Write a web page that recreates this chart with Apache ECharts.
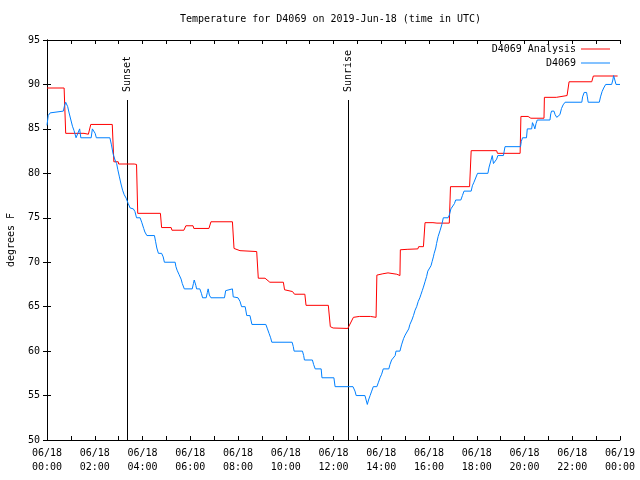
<!DOCTYPE html>
<html>
<head>
<meta charset="utf-8">
<script src="https://cdn.jsdelivr.net/npm/echarts@6/dist/echarts.min.js"></script>
<style>html,body{margin:0;padding:0;background:#fff}#chart{width:640px;height:480px}</style>
</head>
<body>
<div id="chart"></div>
<script>
const titleText = 'Temperature for D4069 on 2019-Jun-18 (time in UTC)';
const yAxisName = 'degrees F';
const seriesNames = ['D4069 Analysis', 'D4069'];
const xTickLabels = ['06/18\n00:00','06/18\n02:00','06/18\n04:00','06/18\n06:00','06/18\n08:00','06/18\n10:00','06/18\n12:00','06/18\n14:00','06/18\n16:00','06/18\n18:00','06/18\n20:00','06/18\n22:00','06/19\n00:00'];
const eventNames = ['Sunset', 'Sunrise'];
const eventMinutes = [202, 757];

// Analysis (red): minutes after 00:00 UTC, degrees F
const redMinutes = [0,43,47,93,104,110,164,168,179,180,219,223,225,228,285,288,312,314,344,349,367,369,407,412,466,470,485,527,531,548,550,560,594,597,617,622,648,651,707,712,719,756,770,785,813,817,827,829,833,844,847,857,862,879,882,887,888,905,932,934,946,950,970,975,980,1011,1014,1062,1066,1130,1132,1189,1191,1209,1216,1249,1250,1280,1282,1307,1312,1369,1373,1434];
const redTemps = [89.6,89.6,84.5,84.5,84.4,85.5,85.5,81.3,81.3,81.05,81.05,81.2,81.0,75.5,75.5,73.9,73.9,73.6,73.6,74.1,74.1,73.8,73.8,74.55,74.55,71.55,71.3,71.2,68.2,68.2,68.3,67.75,67.75,66.9,66.7,66.4,66.4,65.15,65.15,62.75,62.6,62.55,63.8,63.9,63.9,63.8,63.8,68.55,68.7,68.7,68.5,68.8,68.65,68.65,68.5,68.5,71.4,71.45,71.5,71.75,71.75,74.45,74.45,74.55,74.4,74.4,78.5,78.5,82.55,82.55,82.25,82.25,86.4,86.4,86.2,86.2,88.55,88.55,88.75,88.75,90.3,90.3,90.95,90.95];

// Observed (blue): minutes after 00:00 UTC, degrees F
const blueMinutes = [0,3,8,13,41,44,47,52,55,60,64,68,73,78,82,85,111,114,116,121,124,158,162,166,171,175,178,182,186,190,194,199,204,209,217,221,225,234,238,243,246,251,270,273,276,280,288,292,295,322,324,327,332,337,340,345,365,368,370,374,376,384,388,391,400,403,405,408,412,446,449,452,466,468,480,485,489,498,502,510,515,550,554,558,562,565,616,619,621,642,645,647,667,670,674,689,691,721,724,769,774,777,799,802,805,808,812,816,820,829,833,837,841,845,859,862,866,870,875,877,887,891,896,900,904,909,912,917,921,925,929,933,937,940,943,946,950,954,957,962,965,968,971,973,977,979,983,988,992,996,1008,1011,1015,1020,1024,1027,1040,1044,1048,1066,1069,1073,1082,1108,1111,1116,1119,1122,1126,1130,1133,1147,1149,1151,1190,1192,1195,1205,1207,1218,1220,1224,1226,1229,1232,1264,1266,1268,1274,1277,1281,1285,1289,1293,1297,1302,1344,1346,1350,1356,1358,1360,1388,1391,1395,1399,1404,1419,1422,1424,1427,1430,1440];
const blueTemps = [85.4,86.5,86.8,87,87,87.6,88,87.5,86.9,86,85.3,84.8,84,84,85,84,84,85,85,84.5,84,84,83.2,82.2,81.5,81.1,80.4,79.6,78.8,78.1,77.6,77.2,76.6,76.1,76,75.7,75,75,74.5,73.8,73.4,73,73,72.3,71.6,71,71,70.6,70,70,69.5,69.1,68.6,68.1,67.6,67,67,67.6,68,67.4,67,67,66.5,66,66,66.6,67,66.3,66,66,66.8,67,67,66.1,66,65.6,65,65,64,64,63,63,62.5,62,61.5,61,61,60.5,60,60,59.5,59,59,58.5,58,58,57,57,56,56,55.5,55,55,54.5,54,54.5,55,55.5,56,56,56.5,57,57.4,58,58,58.5,59,59,59.5,60,60,60.7,61.4,61.8,62,62.5,63,63.5,64,64.6,65,65.6,66,66.4,66.8,67.2,67.8,68.4,69,69,69.6,70.1,70.6,71,71.6,72.1,72.9,73.6,74.2,75,75,75.3,76,76.2,76.6,77,77,77.5,78,78,78.6,79,80,80,80.7,81.5,82,81.1,81.1,81.6,82,82,82.5,83,83,83.6,84,84,85,85,85.7,85.3,85,85.6,86,86,86.7,87,87,86.6,86.3,86.2,86.6,87.3,87.7,88,88,88.6,89.1,89.1,88.6,88,88,88.6,89.2,89.6,90,90,90.5,91,90.5,90,90];

const FONT = 'DejaVu Sans Mono';
const toPairs = (mins, temps) => mins.map((m, i) => [m / 60, temps[i]]);

const chart = echarts.init(document.getElementById('chart'), null, {renderer: 'canvas'});

const axisLineStyle = {show: true, lineStyle: {color: '#000', width: 1}};
const baseX = {
  type: 'value', min: 0, max: 24, interval: 2,
  axisLine: axisLineStyle,
  axisTick: {show: true, inside: true, length: 4, lineStyle: {color: '#000', width: 1}},
  minorTick: {show: true, splitNumber: 2, length: 4, lineStyle: {color: '#000', width: 1}},
  splitLine: {show: false}, minorSplitLine: {show: false}
};
const baseY = {
  type: 'value', min: 50, max: 95, interval: 5,
  axisLine: axisLineStyle,
  axisTick: {show: true, inside: true, length: 4, lineStyle: {color: '#000', width: 1}},
  splitLine: {show: false}
};

const option = {
  animation: false,
  backgroundColor: '#ffffff',
  textStyle: {fontFamily: FONT, fontSize: 10, color: '#000'},
  title: {
    text: titleText, left: 180, top: 14, padding: 0,
    textStyle: {fontFamily: FONT, fontSize: 10, fontWeight: 'normal', color: '#000'}
  },
  legend: {
    data: seriesNames, orient: 'vertical', right: 30, top: 42, align: 'right',
    icon: 'path://M0,0H30V1H0Z',
    itemWidth: 29, itemHeight: 1, itemGap: 0, padding: 0,
    textStyle: {fontFamily: FONT, fontSize: 10, color: '#000', lineHeight: 14}
  },
  grid: {left: 47, right: 20, top: 40, bottom: 40, containLabel: false, outerBoundsMode: 'none'},
  xAxis: [
    Object.assign({}, baseX, {
      position: 'bottom',
      axisLabel: {
        color: '#000', fontFamily: FONT, fontSize: 10, lineHeight: 14, margin: 6,
        formatter: v => xTickLabels[Math.round(v / 2)]
      }
    }),
    Object.assign({}, baseX, {position: 'top', axisLabel: {show: false}})
  ],
  yAxis: [
    Object.assign({}, baseY, {
      position: 'left',
      name: yAxisName, nameLocation: 'middle', nameRotate: 90, nameGap: 31, nameMoveOverlap: false,
      nameTextStyle: {fontFamily: FONT, fontSize: 10, color: '#000'},
      axisLabel: {color: '#000', fontFamily: FONT, fontSize: 10, margin: 7}
    }),
    Object.assign({}, baseY, {position: 'right', axisLabel: {show: false}})
  ],
  series: [
    {
      name: seriesNames[0], type: 'line', symbol: 'none', xAxisIndex: 0, yAxisIndex: 0,
      data: toPairs(redMinutes, redTemps),
      lineStyle: {color: '#ff0000', width: 1}, itemStyle: {color: '#ff0000'}
    },
    {
      name: seriesNames[1], type: 'line', symbol: 'none', xAxisIndex: 0, yAxisIndex: 0,
      data: toPairs(blueMinutes, blueTemps),
      lineStyle: {color: '#0080ff', width: 1}, itemStyle: {color: '#0080ff'}
    },
    {
      name: 'events', type: 'custom', xAxisIndex: 0, yAxisIndex: 0, clip: false,
      data: eventMinutes.map(m => [m / 60, 50]),
      encode: {x: 0, y: 1},
      renderItem: function (params, api) {
        const cs = params.coordSys;
        const px = Math.floor(api.coord([api.value(0), api.value(1)])[0]) + 0.5;
        const bottom = cs.y + cs.height;
        return {
          type: 'group',
          children: [
            {type: 'line', shape: {x1: px, y1: bottom, x2: px, y2: bottom - cs.height * 0.85},
             style: {stroke: '#000', lineWidth: 1}},
            {type: 'text', x: px, y: bottom - cs.height * 0.87, rotation: Math.PI / 2,
             style: {text: eventNames[params.dataIndex], align: 'left', verticalAlign: 'middle',
                     font: '10px "' + FONT + '"', fill: '#000'}}
          ]
        };
      }
    }
  ]
};
chart.setOption(option);
</script>
</body>
</html>
